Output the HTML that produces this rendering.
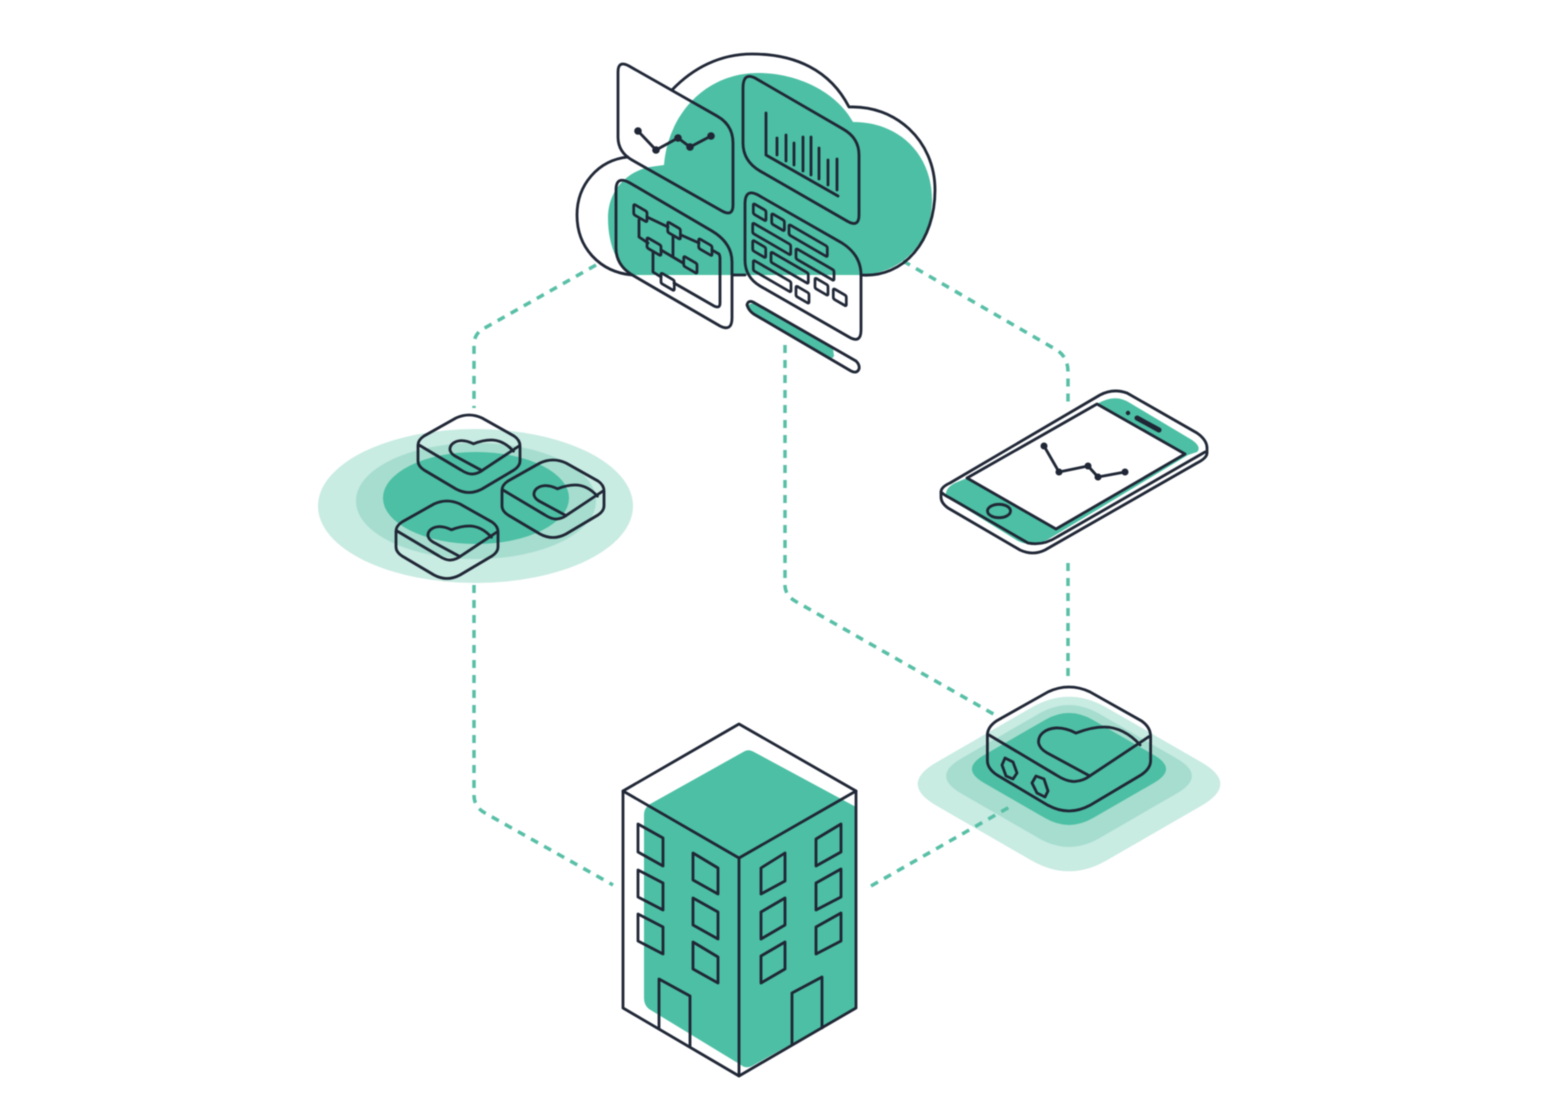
<!DOCTYPE html>
<html>
<head>
<meta charset="utf-8">
<style>
html,body{margin:0;padding:0;background:#fff;width:1556px;height:1111px;overflow:hidden}
svg{display:block;filter:blur(.4px)}
.l{fill:none;stroke:#1f2635;stroke-width:2.8;stroke-linejoin:round;stroke-linecap:round;vector-effect:non-scaling-stroke}
.t{fill:none;stroke:#1f2635;stroke-width:2.8;stroke-linejoin:round;stroke-linecap:round}
.d{fill:none;stroke:#58bfa6;stroke-width:3.5;stroke-dasharray:8 7}
.b rect{fill:none;stroke:#1f2635;stroke-width:2.7;vector-effect:non-scaling-stroke}
</style>
</head>
<body>
<svg width="1556" height="1111" viewBox="0 0 1556 1111" xmlns="http://www.w3.org/2000/svg">
<defs>
<g id="tile">
<path class="l" d="M-13,3 Q0,-3 13,3 L45,21 Q51,25 51,31 L51,46 Q51,51 45,55 L13,74 Q0,81 -13,74 L-45,55 Q-51,51 -51,46 L-51,30 Q-51,25 -45,21 Z"/>
<path class="l" d="M-50,30 L-8,55 Q-1,59.500 4,59 Q9,58.500 13,55.600 L50,31"/>
<path class="l" d="M44.400,36.200 C38,29 30,25 22,25 C15,25 9,27 4.400,28.800 C0,26.500 -4,25.500 -8,25.600 C-15,26 -19.500,30 -19,35 C-18.500,37.500 -16.500,39.500 -14,41 L13,55.600"/>
</g>
<path id="dia" d="M-78,-12.7 Q-100,0 -78,12.7 L-22,45 Q0,57.7 22,45 L78,12.7 Q100,0 78,-12.7 L22,-45 Q0,-57.7 -22,-45 Z"/>
</defs>

<!-- Ellipses -->
<ellipse cx="475.500" cy="506" rx="157.500" ry="77" fill="#c8ebe2"/>
<ellipse cx="476" cy="501" rx="120" ry="58" fill="#a6ddce"/>
<ellipse cx="476" cy="498" rx="93" ry="46" fill="#4cbfa4"/>

<!-- Device pads -->
<use href="#dia" transform="translate(1069,784) scale(1.7)" fill="#c8ebe2"/>
<use href="#dia" transform="translate(1069,776) scale(1.38)" fill="#a6ddce"/>
<use href="#dia" transform="translate(1069,769) scale(1.09)" fill="#4cbfa4"/>

<!-- Dashed connectors -->
<path class="d" d="M596,265 L483,329 Q474,334 474,345 L474,408"/>
<path class="d" d="M903,261 L1055,349 Q1068,356 1068,372 L1068,403"/>
<path class="d" d="M785,345 L785,585 Q785,595 795,601 L997,716"/>
<path class="d" d="M1068,563 L1068,683"/>
<path class="d" d="M474,585 L474,795 Q474,807 485,813 L613,885"/>
<path class="d" d="M871,886 L1013,805"/>

<!-- Cloud -->
<path fill="#4cbfa4" d="M608,218 C608,192 625,172 650,167 L664,165 C668,115 705,73 758,73 C795,73 835,90 853,122 C900,122 932,155 932,200 C932,240 905,272 863,275 L635,275 C618,270 608,245 608,218 Z"/>
<path class="t" d="M861,275 C905,278 935,240 935,190 C935,140 895,105 849,107 C830,70 795,54 752,54 C720,54 693,68 672,90"/>
<path class="t" d="M628,157 C598,160 577,185 577,215 C577,248 600,272 632,275"/>
<path class="t" d="M733,275 L745,275"/>

<!-- Panel 1 -->
<path class="t" d="M618,72 Q618,60 629,66 L717,116 Q733,125 733,143 L733,205 Q733,217 722,211 L632,160 Q618,152 618,137 Z"/>
<path class="t" d="M638,131 L656,150 L678,138 L690,147 L711,136"/>
<g fill="#1f2635"><circle cx="638" cy="131" r="3.800"/><circle cx="656" cy="150" r="3.800"/><circle cx="678" cy="138" r="3.800"/><circle cx="690" cy="147" r="3.800"/><circle cx="711" cy="136" r="3.800"/></g>

<!-- Panel 2 -->
<path class="t" d="M743,88 Q743,72 755,78 L843,129 Q859,138 859,155 L859,215 Q859,228 847,221 L760,171 Q743,161 743,143 Z"/>
<path class="t" d="M766,113 L766,155 L838,196"/>
<path class="t" d="M777,138 L777,155 M786,135 L786,161 M794,143 L794,165 M803,137 L803,171 M811,137 L811,175 M819,148 L819,179 M828,160 L828,185 M837,159 L837,190"/>

<!-- Panel 3 -->
<path class="t" d="M616,190 Q616,175 630,183 L712,231 Q732,243 732,262 L732,318 Q732,332 720,326 L634,276 Q616,266 616,248 Z"/>
<g class="b">
<rect transform="matrix(1 .58 0 1 633.700 204)" width="13.300" height="10.500" rx="1.500"/>
<rect transform="matrix(1 .58 0 1 667.700 221.700)" width="12.700" height="10.500" rx="1.500"/>
<rect transform="matrix(1 .58 0 1 647 237.300)" width="14" height="10.500" rx="1.500"/>
<rect transform="matrix(1 .58 0 1 698.700 238.300)" width="13.300" height="10" rx="1.500"/>
<rect transform="matrix(1 .58 0 1 683.700 256)" width="13.300" height="10" rx="1.500"/>
<rect transform="matrix(1 .58 0 1 661 272.700)" width="13.300" height="10.500" rx="1.500"/>
</g>
<path class="t" d="M647,217 L668,227 M681,235 L699,243 M639,220 L639,237 L648,243 M661,250 L683,263 M673,237 L673,257 M653,253 L653,272 L661,277 M712,250 L719,254 Q720,256 720,258 L720,303 Q720,309 714,306 L674,283"/>

<!-- Panel 4 -->
<path class="t" d="M745,204 Q745,188 758,195 L842,243 Q861,255 861,275 L861,330 Q861,344 849,337 L760,286 Q745,277 745,260 Z"/>
<g class="b">
<rect transform="matrix(1 .58 0 1 753.300 203.300)" width="12.700" height="10.500" rx="1.500"/>
<rect transform="matrix(1 .58 0 1 771.700 213.300)" width="12.700" height="10.500" rx="1.500"/>
<rect transform="matrix(1 .58 0 1 789 224.300)" width="38.300" height="10.500" rx="1.500"/>
<rect transform="matrix(1 .58 0 1 752.700 222.700)" width="38" height="10.500" rx="1.500"/>
<rect transform="matrix(1 .58 0 1 796 248.300)" width="38" height="10.500" rx="1.500"/>
<rect transform="matrix(1 .58 0 1 752.700 240)" width="13" height="10.500" rx="1.500"/>
<rect transform="matrix(1 .58 0 1 771 251.700)" width="37.300" height="10.500" rx="1.500"/>
<rect transform="matrix(1 .58 0 1 753.300 260)" width="37.700" height="10.500" rx="1.500"/>
<rect transform="matrix(1 .58 0 1 796 285.700)" width="13" height="10.500" rx="1.500"/>
<rect transform="matrix(1 .58 0 1 815 277.700)" width="13" height="10.500" rx="1.500"/>
<rect transform="matrix(1 .58 0 1 833.300 288.300)" width="13" height="10.500" rx="1.500"/>
</g>

<!-- Progress bar -->
<path fill="#4cbfa4" d="M753,303 L833,349 L834,356 Q832,360 827,357 L757,316 Q749,312 748,305 Z"/>
<path class="t" d="M753,302 L856,361 Q860,365 859,369 Q857,374 851,371 L757,316 Q749,312 747,305 Q748,300 753,302 Z"/>

<!-- Tiles -->
<use href="#tile" transform="translate(469,415)"/>
<use href="#tile" transform="translate(553,460)"/>
<use href="#tile" transform="translate(447,501)"/>

<!-- Device -->
<use href="#tile" transform="translate(1069,687) scale(1.6)"/>
<path class="t" d="M1005,758 L1013,762 L1017,773 L1013,779 L1006,776 L1002,765 Z"/>
<path class="t" d="M1036,776 L1044,779 L1048,791 L1045,797 L1037,793 L1032,783 Z"/>

<!-- Phone -->
<path fill="#4cbfa4" d="M946,493 Q947,487 955,483 L967,478 L1097,404 Q1115,393 1130,403 L1192,440 Q1202,447 1197,452 L1188,455 L1047,540 Q1033,548 1018,541 L950,499 Q945,497 946,493 Z"/>
<path class="t" style="fill:#fff" d="M1097,404 L1185,454 L1056,529 L967,478 Z"/>
<path class="t" d="M950,483 L1100,395 Q1113,388 1127,393 L1197,433 Q1207,440 1207,448 L1207,453 Q1207,458 1197,463 L1045,550 Q1033,556 1020,550 L948,508 Q941,503 941,497 L941,492 Q941,487 950,483 Z"/>
<path class="t" d="M1205,452 L1057,537 Q1043,546 1028,543 L950,498 Q944,495 941,492"/>
<ellipse class="t" cx="999" cy="511" rx="11.500" ry="6.700"/>
<path d="M1137,418 L1159,430" stroke="#1f2635" stroke-width="5" stroke-linecap="round" fill="none"/>
<circle cx="1128" cy="413" r="2.200" fill="#1f2635"/>
<path class="t" d="M1044,446 L1059,472 L1088,466 L1098,477 L1125,472"/>
<g fill="#1f2635"><circle cx="1044" cy="446" r="3.500"/><circle cx="1059" cy="472" r="3.500"/><circle cx="1088" cy="466" r="3.500"/><circle cx="1098" cy="477" r="3.500"/><circle cx="1125" cy="472" r="3.500"/></g>

<!-- Building -->
<path fill="#4cbfa4" d="M745,751 Q749,749 754,752 L856,807 L856,1008 L752,1066 Q746,1069 741,1065 L649,1009 Q644,1005 644,998 L644,815 Q644,807 652,803 Z"/>
<path class="t" d="M739,724 L856,791 L856,1008 L739,1076 L623,1008 L623,791 Z"/>
<path class="t" d="M623,791 L739,858 L856,791 M739,858 L739,1076"/>
<g class="t">
<path d="M638,824 L663,838 L663,866 L638,852 Z"/>
<path d="M638,870 L663,883 L663,910 L638,897 Z"/>
<path d="M638,914 L663,927 L663,954 L638,941 Z"/>
<path d="M693,853 L718,868 L718,894 L693,880 Z"/>
<path d="M693,898 L718,912 L718,939 L693,925 Z"/>
<path d="M693,942 L718,957 L718,983 L693,969 Z"/>
<path d="M761,868 L785,853 L785,881 L761,894 Z"/>
<path d="M761,912 L785,898 L785,925 L761,939 Z"/>
<path d="M761,956 L785,942 L785,969 L761,983 Z"/>
<path d="M816,839 L841,824 L841,852 L816,866 Z"/>
<path d="M816,883 L841,869 L841,897 L816,910 Z"/>
<path d="M816,927 L841,913 L841,941 L816,954 Z"/>
<path d="M659,1028 L659,979 L690,996 L690,1047"/>
<path d="M792,1044 L792,993 L822,977 L822,1028"/>
</g>
</svg>
</body>
</html>
